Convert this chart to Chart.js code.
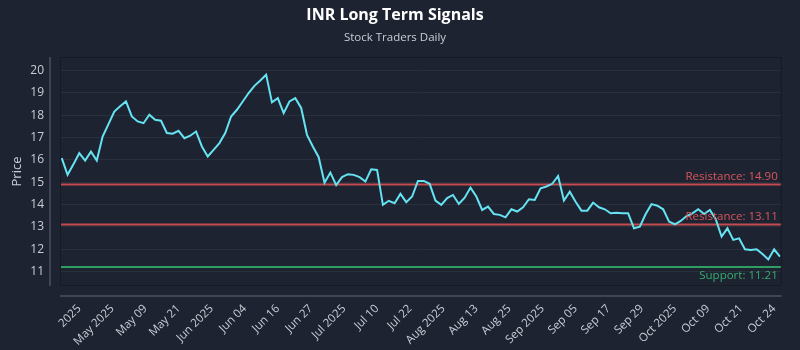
<!DOCTYPE html>
<html>
<head>
<meta charset="utf-8">
<title>INR Long Term Signals</title>
<script src="https://cdn.jsdelivr.net/npm/chart.js@4.4.1/dist/chart.umd.min.js"></script>
<style>
  html, body { margin: 0; padding: 0; background: #1e2331; }
  #wrap { width: 800px; height: 350px; }
</style>
</head>
<body>
<div id="wrap"><canvas id="signalChart"></canvas></div>
<script>
// date ticks shown along the bottom axis
const tickLabels = [
  '2025', 'May 2025', 'May 09', 'May 21', 'Jun 2025', 'Jun 04', 'Jun 16', 'Jun 27',
  'Jul 2025', 'Jul 10', 'Jul 22', 'Aug 2025', 'Aug 13', 'Aug 25', 'Sep 2025', 'Sep 05',
  'Sep 17', 'Sep 29', 'Oct 2025', 'Oct 09', 'Oct 21', 'Oct 24'
];

// daily closing prices
const prices = [
  16.08, 15.33, 15.80, 16.30, 15.97, 16.37, 15.97, 17.04, 17.60, 18.16,
  18.40, 18.61, 17.94, 17.72, 17.64, 18.02, 17.79, 17.75, 17.20, 17.17,
  17.30, 16.97, 17.08, 17.27, 16.60, 16.15, 16.45, 16.75, 17.20, 17.94,
  18.24, 18.61, 18.99, 19.31, 19.55, 19.81, 18.57, 18.76, 18.09, 18.61,
  18.76, 18.32, 17.12, 16.60, 16.12, 14.98, 15.43, 14.87, 15.23, 15.36,
  15.33, 15.23, 15.03, 15.58, 15.55, 13.99, 14.17, 14.06, 14.48, 14.11,
  14.36, 15.06, 15.06, 14.93, 14.18, 13.99, 14.29, 14.43, 14.03, 14.31,
  14.76, 14.36, 13.76, 13.91, 13.58, 13.54, 13.43, 13.79, 13.69, 13.88,
  14.24, 14.21, 14.73, 14.81, 14.93, 15.28, 14.18, 14.58, 14.13, 13.73,
  13.73, 14.09, 13.88, 13.79, 13.61, 13.64, 13.61, 13.61, 12.94, 13.01,
  13.58, 14.02, 13.95, 13.79, 13.24, 13.12, 13.27, 13.49, 13.61, 13.79,
  13.58, 13.76, 13.35, 12.57, 12.94, 12.42, 12.49, 12.00, 11.97, 12.00,
  11.79, 11.55, 12.00, 11.67
];

const resistanceLevels = [14.90, 13.11];
const supportLevels = [11.21];

const FONT = "'Open Sans', sans-serif";
const TEXT = '#c9cdd6';
const BG = '#1e2331';

// background, frame, detached axis lines and the signal levels
const signalLines = {
  id: 'signalLines',
  beforeDraw(chart) {
    const ctx = chart.ctx;
    ctx.save();
    ctx.fillStyle = BG;
    ctx.fillRect(0, 0, chart.width, chart.height);
    ctx.restore();
  },
  beforeDatasetsDraw(chart) {
    const { ctx, chartArea: a, scales: { y } } = chart;
    ctx.save();
    ctx.lineWidth = 2;
    resistanceLevels.forEach(v => {
      const py = y.getPixelForValue(v);
      ctx.strokeStyle = '#c24c50';
      ctx.beginPath(); ctx.moveTo(a.left, py); ctx.lineTo(a.right, py); ctx.stroke();
    });
    supportLevels.forEach(v => {
      const py = y.getPixelForValue(v);
      ctx.strokeStyle = '#2f9e62';
      ctx.beginPath(); ctx.moveTo(a.left, py); ctx.lineTo(a.right, py); ctx.stroke();
    });
    ctx.restore();
  },
  afterDatasetsDraw(chart) {
    const { ctx, chartArea: a, scales: { y } } = chart;
    ctx.save();
    ctx.font = '11.5px ' + FONT;
    ctx.textAlign = 'right';
    resistanceLevels.forEach(v => {
      ctx.fillStyle = '#d9575a';
      ctx.textBaseline = 'bottom';
      ctx.fillText('Resistance: ' + v.toFixed(2), a.right - 4, y.getPixelForValue(v) - 2);
    });
    supportLevels.forEach(v => {
      ctx.fillStyle = '#38ad6c';
      ctx.textBaseline = 'top';
      ctx.fillText('Support: ' + v.toFixed(2), a.right - 4, y.getPixelForValue(v) + 3);
    });

    // plot frame
    ctx.strokeStyle = '#151a25';
    ctx.lineWidth = 1;
    ctx.strokeRect(a.left + 0.5, a.top + 0.5, a.right - a.left - 1, a.bottom - a.top - 1);

    // axis lines sit a little away from the plot
    ctx.strokeStyle = '#4b5162';
    ctx.lineWidth = 1.5;
    ctx.beginPath();
    ctx.moveTo(a.left - 10, a.top); ctx.lineTo(a.left - 10, a.bottom);
    ctx.moveTo(a.left, a.bottom + 10); ctx.lineTo(a.right, a.bottom + 10);
    ctx.stroke();
    ctx.restore();
  }
};

const points = prices.map((p, i) => ({ x: i, y: p }));

new Chart(document.getElementById('signalChart'), {
  type: 'line',
  data: {
    datasets: [{
      label: 'INR',
      data: points,
      borderColor: '#66e3f2',
      borderWidth: 2,
      pointRadius: 0,
      tension: 0
    }]
  },
  options: {
    responsive: true,
    maintainAspectRatio: false,
    animation: false,
    layout: { padding: { left: 0, right: 10, top: 0, bottom: 0 } },
    plugins: {
      legend: { display: false },
      tooltip: { enabled: false },
      title: {
        display: true,
        text: 'INR Long Term Signals',
        color: '#ffffff',
        font: { family: FONT, size: 16, weight: 'bold' },
        padding: { top: 6, bottom: 6 }
      },
      subtitle: {
        display: true,
        text: 'Stock Traders Daily',
        color: TEXT,
        font: { family: FONT, size: 11.5 },
        padding: { top: 0, bottom: 12 }
      }
    },
    scales: {
      x: {
        type: 'linear',
        min: -0.3,
        max: prices.length - 1 + 0.3,
        grid: { display: false, drawTicks: false },
        border: { display: false },
        afterBuildTicks(scale) {
          const first = 3, last = prices.length - 2;
          const step = (last - first) / (tickLabels.length - 1);
          scale.ticks = tickLabels.map((_, k) => ({ value: first + k * step }));
        },
        afterFit(scale) { scale.height = 64; },
        ticks: {
          autoSkip: false,
          minRotation: 45,
          maxRotation: 45,
          padding: 16,
          color: TEXT,
          font: { family: FONT, size: 11.5 },
          callback: (value, index) => tickLabels[index]
        }
      },
      y: {
        min: 10.36,
        max: 20.6,
        grid: { color: 'rgba(255,255,255,0.055)', drawTicks: false },
        border: { display: false },
        afterFit(scale) { scale.width = 60; },
        ticks: {
          stepSize: 1,
          includeBounds: false,
          padding: 16,
          color: TEXT,
          font: { family: FONT, size: 12 }
        },
        title: {
          display: true,
          text: 'Price',
          color: TEXT,
          font: { family: FONT, size: 13 },
          padding: { top: 9, bottom: 0 }
        }
      }
    }
  },
  plugins: [signalLines]
});
</script>
</body>
</html>
